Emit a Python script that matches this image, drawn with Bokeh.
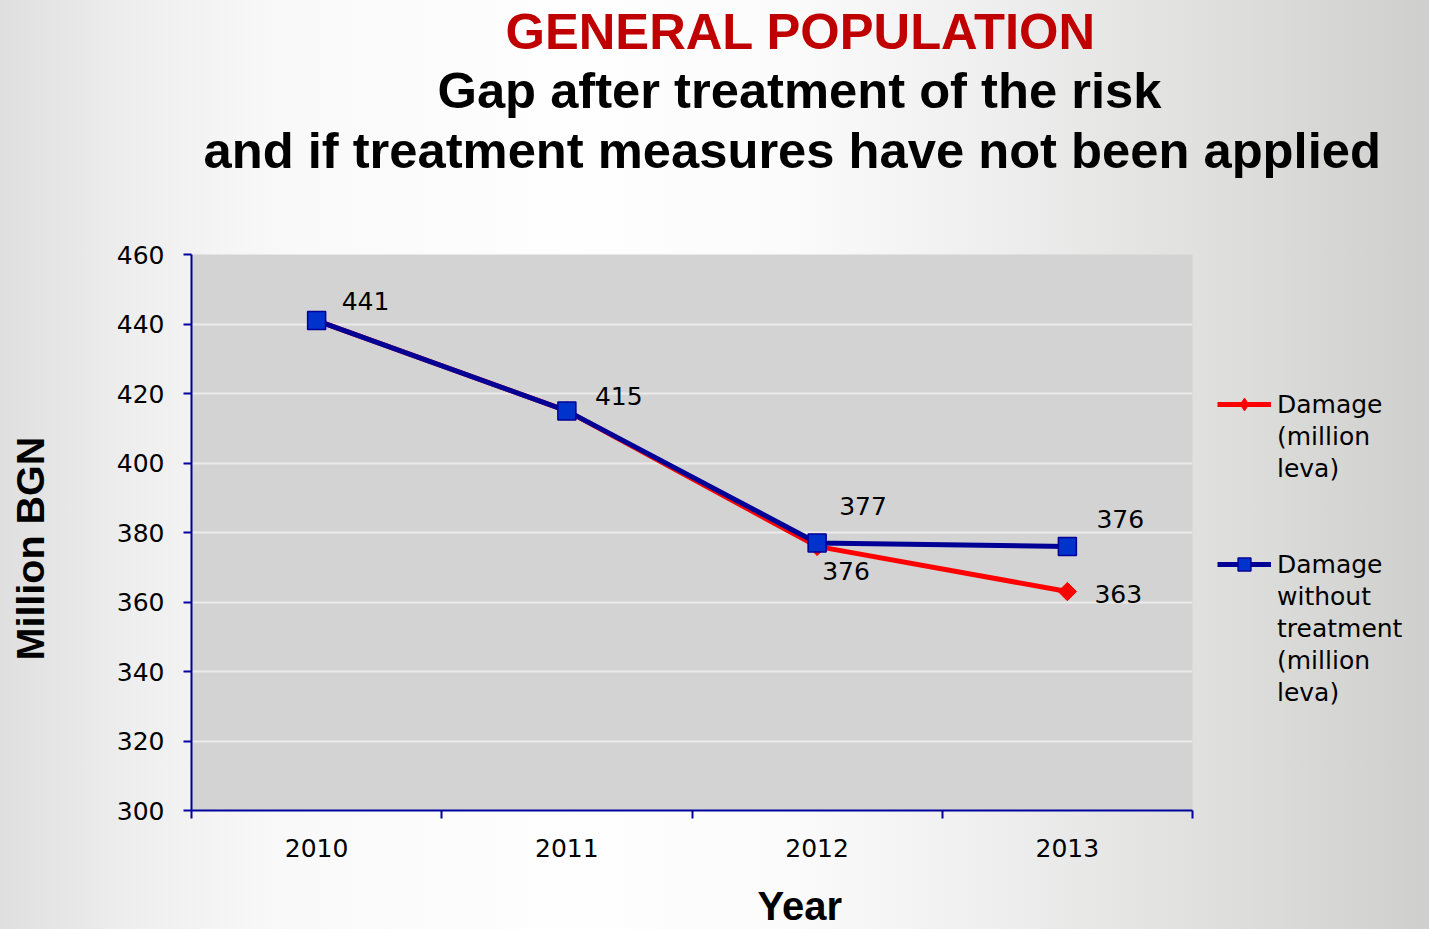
import math
from bokeh.plotting import figure
from bokeh.models import Range1d, FixedTicker, Legend, LegendItem, ColumnDataSource, Title
from bokeh.core.properties import value
from bokeh.embed import file_html
from bokeh.resources import INLINE

# ---------------- data ----------------
years = ["2010", "2011", "2012", "2013"]
damage = [441, 415, 376, 363]                 # Damage (million leva)
damage_untreated = [441, 415, 377, 376]       # Damage without treatment (million leva)
y_ticks = [300, 320, 340, 360, 380, 400, 420, 440, 460]
series_lines = [["Damage", "(million", "leva)"],
                ["Damage", "without", "treatment", "(million", "leva)"]]
title_lines = ["GENERAL POPULATION",
               "Gap after treatment of the risk",
               "and if treatment measures have not been applied"]
x_title = "Year"
y_title = "Million BGN"

# which data labels are shown (red ones for 2010/2011 are hidden under the blue ones)
red_label_idx = [2, 3]
blue_label_idx = [0, 1, 2, 3]
# label placement in pixels (presentation only)
red_dx = [5, 27]
red_dy = [25, 2]
blue_dx = [25, 28, 22, 29]
blue_dy = [-20, -15, -37, -27]

# ---------------- style ----------------
W, H = 1429, 929
AXIS = "#00009c"
RED = "#ff0000"
NAVY = "#000096"
BLUE_FILL = "#0033cc"
NUM_FONT = "DejaVu Sans"
TITLE_FONT = "Liberation Sans"
NBSP = "\u00a0"

xs = [i + 0.5 for i in range(len(years))]

p = figure(width=W, height=H, frame_width=1001, frame_height=556,
           output_backend="svg", toolbar_location=None,
           x_range=Range1d(0, len(years)), y_range=Range1d(y_ticks[0], y_ticks[-1]),
           min_border_left=191, min_border_right=237, min_border_top=254, min_border_bottom=119)
p.styles = {"background": "linear-gradient(to right, #dfdfdf 0px, #eeeeee 130px, #f9f9f9 285px, "
                          "#fefefe 570px, #fbfbfb 790px, #eeeeee 1000px, #dfdfde 1215px, #cfcfcd 1429px)"}
p.border_fill_color = None
p.background_fill_color = "#d3d3d3"
p.outline_line_color = None

# axes
xa = p.xaxis[0]
xa.ticker = FixedTicker(ticks=xs, minor_ticks=list(range(len(years) + 1)))
xa.major_label_overrides = {x: y for x, y in zip(xs, years)}
xa.major_tick_line_color = None
xa.major_tick_out = 0
xa.major_tick_in = 0
xa.minor_tick_out = 8
xa.minor_tick_in = 0
xa.minor_tick_line_color = AXIS
xa.minor_tick_line_width = 2
xa.axis_line_color = AXIS
xa.axis_line_width = 2
xa.major_label_text_font = NUM_FONT
xa.major_label_text_font_size = "25px"
xa.major_label_text_color = "black"
xa.major_label_standoff = 20

ya = p.yaxis[0]
ya.ticker = FixedTicker(ticks=y_ticks)
ya.major_tick_out = 8
ya.major_tick_in = 0
ya.major_tick_line_color = AXIS
ya.major_tick_line_width = 2
ya.minor_tick_line_color = None
ya.axis_line_color = AXIS
ya.axis_line_width = 2
ya.major_label_text_font = NUM_FONT
ya.major_label_text_font_size = "25px"
ya.major_label_text_color = "black"
ya.major_label_standoff = 19

p.xgrid.grid_line_color = None
p.ygrid.grid_line_color = "#ebebeb"
p.ygrid.grid_line_width = 2

# series
red_line = p.line(xs, damage, line_color=RED, line_width=5)
red_pts = p.scatter(xs, damage, marker="square", angle=math.pi / 4, size=13,
                    fill_color=RED, line_color=RED)
red_key = p.scatter(xs, damage, marker="diamond", size=0, fill_color=RED, line_color=RED)
blue_line = p.line(xs, damage_untreated, line_color=NAVY, line_width=5)
blue_pts = p.scatter(xs, damage_untreated, marker="square", size=18,
                     fill_color=BLUE_FILL, line_color=NAVY, line_width=1.5)

# data labels
red_src = ColumnDataSource(dict(x=[xs[i] for i in red_label_idx],
                                y=[damage[i] for i in red_label_idx],
                                t=[str(damage[i]) for i in red_label_idx],
                                dx=red_dx, dy=red_dy))
blue_src = ColumnDataSource(dict(x=[xs[i] for i in blue_label_idx],
                                 y=[damage_untreated[i] for i in blue_label_idx],
                                 t=[str(damage_untreated[i]) for i in blue_label_idx],
                                 dx=blue_dx, dy=blue_dy))
for src in (red_src, blue_src):
    p.text(x="x", y="y", text="t", x_offset="dx", y_offset="dy", source=src,
           text_font=value(NUM_FONT), text_font_size="25px", text_color="black",
           text_align="left", text_baseline="middle")

# legend: one item per text line so that the sample sits on the first line
items = [LegendItem(label=" ", renderers=[])]
for k, (lines, rends) in enumerate(zip(series_lines, [[red_line, red_key], [blue_line, blue_pts]])):
    if k > 0:
        items.append(LegendItem(label=" ", renderers=[]))
        items.append(LegendItem(label=" ", renderers=[]))
    for j, ln in enumerate(lines):
        items.append(LegendItem(label=ln, renderers=rends if j == 0 else []))
legend = Legend(items=items, location="center_left", orientation="vertical",
                label_text_font=NUM_FONT, label_text_font_size="25px",
                label_text_color="black", label_standoff=6, label_height=32,
                glyph_width=54, glyph_height=32, spacing=0, padding=0, margin=25,
                border_line_color=None, background_fill_alpha=0)
p.add_layout(legend, "right")

# titles (added from the plot outward): spacer, line 3, line 2, line 1
p.add_layout(Title(text=NBSP, text_font_size="10px", standoff=62), "above")
title_colors = ["#c00000", "black", "black"]
title_offsets = [314, 246, 12]
title_standoffs = [0, 0, 2]
for t, c, off, so in list(zip(title_lines, title_colors, title_offsets, title_standoffs))[::-1]:
    p.add_layout(Title(text=t, align="left", offset=off, standoff=so,
                       text_font=TITLE_FONT, text_font_style="bold", text_font_size="50.7px",
                       text_color=c, vertical_align="bottom"), "above")

# x title: spacer then "Year"
p.add_layout(Title(text=NBSP, text_font_size="10px", standoff=9), "below")
p.add_layout(Title(text=x_title, align="left", offset=566, standoff=0,
                   text_font=TITLE_FONT, text_font_style="bold", text_font_size="40px",
                   text_color="black"), "below")
# y title: spacer then "Million BGN"
p.add_layout(Title(text=NBSP, text_font_size="10px", standoff=40), "left")
p.add_layout(Title(text=y_title, align="left", offset=150, standoff=14,
                   text_font=TITLE_FONT, text_font_style="bold", text_font_size="39.5px",
                   text_color="black", vertical_align="top"), "left")

open("out.html", "w").write(file_html(p, INLINE))
